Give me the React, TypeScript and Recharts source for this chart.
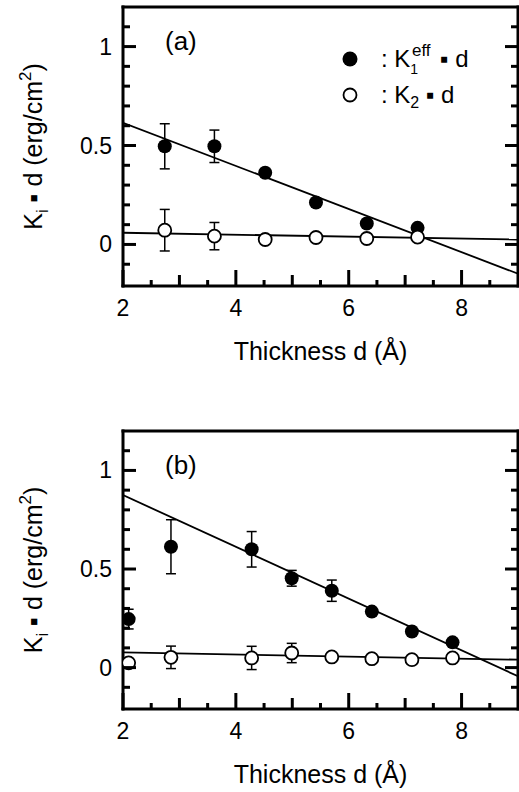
import React from 'react';
import { ScatterChart, Scatter, XAxis, YAxis, ErrorBar, ReferenceLine, Customized } from 'recharts';

const FONT = '"Liberation Sans", Arial, Helvetica, sans-serif';

// axes
const xDomain = [2, 9];
const yDomain = [-0.21, 1.2];
const xMajorTicks = [2, 4, 6, 8];
const xMidTicks = [3, 5, 7];
const xMinorTicks = [2.5, 3.5, 4.5, 5.5, 6.5, 7.5, 8.5];
const yMajorTicks = [0, 0.5, 1];
const yMinorTicks = [-0.1, 0.1, 0.2, 0.3, 0.4, 0.6, 0.7, 0.8, 0.9, 1.1];

// panel (a)
const thicknessA = [2.74, 3.62, 4.52, 5.42, 6.32, 7.22];
const k1A = [0.496, 0.496, 0.362, 0.212, 0.106, 0.084];
const k1ErrA = [0.114, 0.082, 0, 0, 0, 0];
const k2A = [0.072, 0.042, 0.025, 0.035, 0.03, 0.037];
const k2ErrA = [0.105, 0.069, 0, 0, 0, 0];
const fitK1A = [0.615, -0.148];
const fitK2A = [0.059, 0.025];

// panel (b)
const thicknessB = [2.1, 2.85, 4.28, 4.99, 5.7, 6.41, 7.12, 7.84];
const k1B = [0.246, 0.613, 0.6, 0.453, 0.39, 0.284, 0.183, 0.128];
const k1ErrB = [0.05, 0.137, 0.09, 0.04, 0.054, 0, 0, 0];
const k2B = [0.024, 0.052, 0.049, 0.074, 0.054, 0.045, 0.04, 0.049];
const k2ErrB = [0, 0.057, 0.059, 0.049, 0, 0, 0, 0];
const fitK1B = [0.875, -0.044];
const fitK2B = [0.077, 0.04];

// fit lines run across the whole x range
const fitX = [2, 9];

const toPoints = (xs: number[], ys: number[], errs: number[]) =>
  xs.map((x, i) => ({ x, y: ys[i], err: errs[i] }));

const xTickLen = (v: number) => (xMajorTicks.includes(v) ? 16 : xMidTicks.includes(v) ? 11 : 6);
const yTickLen = (v: number) => (yMajorTicks.includes(v) ? 13 : 7);

const xTicks = [...xMajorTicks, ...xMidTicks, ...xMinorTicks].sort((a, b) => a - b);
const yTicks = [...yMajorTicks, ...yMinorTicks].sort((a, b) => a - b);

const TICK_W = 3;

// ticks point inward; labels only on the major ones
const renderBottomTick = (props: any) => {
  const { x, y, payload } = props;
  const v = payload.value;
  return (
    <g key={`b-${v}`}>
      <line x1={x} x2={x} y1={y + 1} y2={y - xTickLen(v)} stroke="#000" strokeWidth={TICK_W} />
      {xMajorTicks.includes(v) && (
        <text x={x} y={y + 30} textAnchor="middle" fontSize={23} fontFamily={FONT} fill="#000">
          {v}
        </text>
      )}
    </g>
  );
};

const renderTopTick = (props: any) => {
  const { x, y, payload } = props;
  return (
    <line
      key={`t-${payload.value}`}
      x1={x}
      x2={x}
      y1={y - 1}
      y2={y + xTickLen(payload.value)}
      stroke="#000"
      strokeWidth={TICK_W}
    />
  );
};

const renderLeftTick = (props: any) => {
  const { x, y, payload } = props;
  const v = payload.value;
  return (
    <g key={`l-${v}`}>
      <line x1={x - 1} x2={x + yTickLen(v)} y1={y} y2={y} stroke="#000" strokeWidth={TICK_W} />
      {yMajorTicks.includes(v) && (
        <text x={x - 11} y={y + 8} textAnchor="end" fontSize={23} fontFamily={FONT} fill="#000">
          {String(v)}
        </text>
      )}
    </g>
  );
};

const renderRightTick = (props: any) => {
  const { x, y, payload } = props;
  return (
    <line
      key={`r-${payload.value}`}
      x1={x + 1}
      x2={x - yTickLen(payload.value)}
      y1={y}
      y2={y}
      stroke="#000"
      strokeWidth={TICK_W}
    />
  );
};

const FilledDot = (p: any) => <circle cx={p.cx} cy={p.cy} r={7} fill="#000" />;
const OpenDot = (p: any) => <circle cx={p.cx} cy={p.cy} r={6.5} fill="#fff" stroke="#000" strokeWidth={1.8} />;
const NoDot = () => <g />;

const W = 519;
const H = 392;
const PLOT_LEFT = 123;
const PLOT_RIGHT = W - 1;

const Annotations = ({ label, plotTop, plotHeight, legend }: any) => {
  const cy = plotTop + plotHeight / 2;
  const bottom = plotTop + plotHeight;
  return (
    <g fontFamily={FONT} fill="#000">
      <text x={165} y={plotTop + 43} fontSize={26}>
        {label}
      </text>
      <text transform={`translate(42, ${cy}) rotate(-90)`} textAnchor="middle" fontSize={25}>
        K<tspan fontSize={17} dy={6}>i</tspan>
        <tspan dy={-6}> ▪ d (erg/cm</tspan>
        <tspan fontSize={17} dy={-11}>2</tspan>
        <tspan dy={11}>)</tspan>
      </text>
      <text x={PLOT_LEFT + (PLOT_RIGHT - PLOT_LEFT) / 2} y={bottom + 74} textAnchor="middle" fontSize={25}>
        Thickness d (Å)
      </text>
      {legend && (
        <g>
          <circle cx={350} cy={59} r={7.5} fill="#000" />
          <circle cx={350} cy={95} r={6.5} fill="#fff" stroke="#000" strokeWidth={1.8} />
          <text x={381} y={67} fontSize={24}>
            : K<tspan fontSize={14} dy={7}>1</tspan>
          </text>
          <text x={412} y={56} fontSize={17}>
            eff
          </text>
          <text x={440} y={67} fontSize={24}>
            ▪ d
          </text>
          <text x={381} y={103} fontSize={24}>
            : K<tspan fontSize={16} dy={5}>2</tspan>
            <tspan dy={-5}> ▪ d</tspan>
          </text>
        </g>
      )}
    </g>
  );
};

const axisLine = { stroke: '#000', strokeWidth: 3, strokeLinecap: 'square' as const };

function Panel({ top, plotTop, plotHeight, label, legend, k1, k1Err, k2, k2Err, xs, fitK1, fitK2 }: any) {
  const k1Pts = toPoints(xs, k1, k1Err);
  const k2Pts = toPoints(xs, k2, k2Err);
  return (
    <div style={{ position: 'absolute', left: 0, top }}>
      <ScatterChart width={W} height={H} margin={{ top: plotTop - 1, right: 0, left: 0, bottom: 0 }}>
        <XAxis
          xAxisId={0}
          dataKey="x"
          type="number"
          domain={xDomain}
          allowDataOverflow
          ticks={xTicks}
          interval={0}
          tickSize={0}
          tickMargin={0}
          tickLine={false}
          tick={renderBottomTick}
          axisLine={axisLine}
          height={H - plotTop - plotHeight}
        />
        <XAxis
          xAxisId="t"
          orientation="top"
          type="number"
          domain={xDomain}
          allowDataOverflow
          ticks={xTicks}
          interval={0}
          tickSize={0}
          tickMargin={0}
          tickLine={false}
          tick={renderTopTick}
          axisLine={axisLine}
          height={1}
        />
        <YAxis
          yAxisId={0}
          dataKey="y"
          type="number"
          domain={yDomain}
          allowDataOverflow
          ticks={yTicks}
          interval={0}
          tickSize={0}
          tickMargin={0}
          tickLine={false}
          tick={renderLeftTick}
          axisLine={axisLine}
          width={PLOT_LEFT}
        />
        <YAxis
          yAxisId="r"
          orientation="right"
          type="number"
          domain={yDomain}
          allowDataOverflow
          ticks={yTicks}
          interval={0}
          tickSize={0}
          tickMargin={0}
          tickLine={false}
          tick={renderRightTick}
          axisLine={axisLine}
          width={1}
        />
        <ReferenceLine
          segment={[{ x: fitX[0], y: fitK1[0] }, { x: fitX[1], y: fitK1[1] }]}
          stroke="#000"
          strokeWidth={1.8}
          ifOverflow="hidden"
        />
        <ReferenceLine
          segment={[{ x: fitX[0], y: fitK2[0] }, { x: fitX[1], y: fitK2[1] }]}
          stroke="#000"
          strokeWidth={1.8}
          ifOverflow="hidden"
        />
        <Scatter data={k1Pts} shape={NoDot} isAnimationActive={false}>
          <ErrorBar dataKey="err" direction="y" width={5} stroke="#000" strokeWidth={1.5} />
        </Scatter>
        <Scatter data={k2Pts} shape={NoDot} isAnimationActive={false}>
          <ErrorBar dataKey="err" direction="y" width={5} stroke="#000" strokeWidth={1.5} />
        </Scatter>
        <Scatter data={k1Pts} shape={FilledDot} isAnimationActive={false} />
        <Scatter data={k2Pts} shape={OpenDot} isAnimationActive={false} />
        <Customized
          component={<Annotations label={label} plotTop={plotTop} plotHeight={plotHeight} legend={legend} />}
        />
      </ScatterChart>
    </div>
  );
}

export default function App() {
  return (
    <div style={{ position: 'absolute', left: 0, top: 0, width: W, height: 792, background: '#fff' }}>
      <Panel
        top={0}
        plotTop={7}
        plotHeight={279}
        label="(a)"
        legend
        xs={thicknessA}
        k1={k1A}
        k1Err={k1ErrA}
        k2={k2A}
        k2Err={k2ErrA}
        fitK1={fitK1A}
        fitK2={fitK2A}
      />
      <Panel
        top={400}
        plotTop={31}
        plotHeight={278}
        label="(b)"
        xs={thicknessB}
        k1={k1B}
        k1Err={k1ErrB}
        k2={k2B}
        k2Err={k2ErrB}
        fitK1={fitK1B}
        fitK2={fitK2B}
      />
    </div>
  );
}
